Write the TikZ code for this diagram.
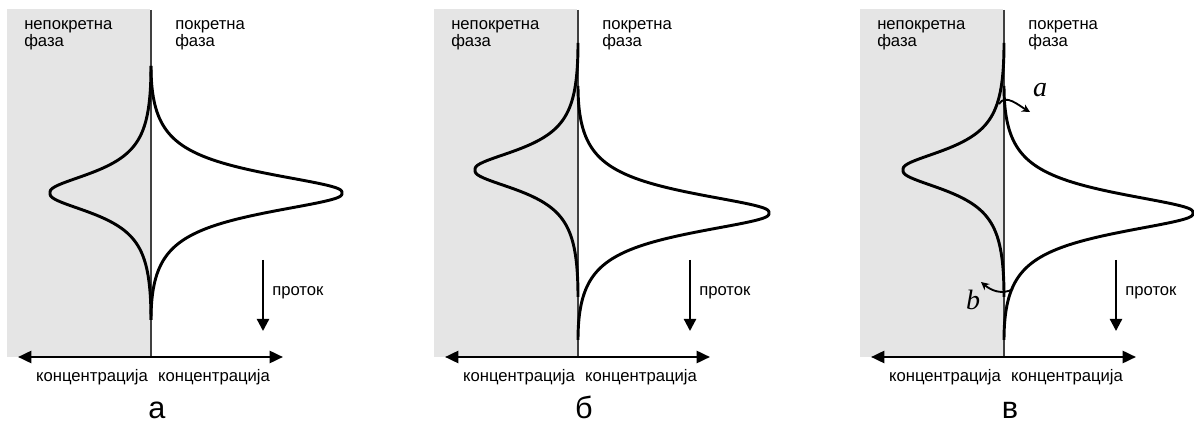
\documentclass[tikz,border=0pt]{standalone}
\usepackage{fontspec}
\setmainfont{Liberation Sans}
\newfontfamily\labelserif{Liberation Serif}
\usetikzlibrary{arrows.meta, positioning}
\tikzset{
  fixed_phase/.style={fill=black!10, draw=none},
  phase_line/.style={line width=0.8pt, black!75},
  peak_curve/.style={line width=2.2pt, black, line join=round},
  axis_arrow/.style={{Triangle[length=10pt,width=9pt]}-{Triangle[length=10pt,width=9pt]}, line width=1.9pt},
  flow_arrow/.style={-{Triangle[length=9pt,width=9pt]}, line width=1.7pt},
  swap_arrow/.style={-{Stealth[length=6pt,width=6pt]}, line width=1.4pt},
  label_text/.style={font=\fontsize{12.5}{12.75}\selectfont, inner sep=0pt, align=left},
  panel_label/.style={font=\fontsize{23}{23}\selectfont, inner sep=0pt},
  step_label/.style={font=\labelserif\itshape\fontsize{21}{21}\selectfont, inner sep=0pt}
}
% concentration profile: line x, peak y, signed height
\newcommand{\peakcurve}[3]{%
  \draw[peak_curve] plot[domain=-1:1, samples=161, smooth]
    ({#1+(#3)*(1-(\x)*(\x))*(1-(\x)*(\x))/(1+25*(\x)*(\x)*((\x)*(\x)/((\x)*(\x)+0.0008)))}, {#2+127*(\x)});
}

\begin{document}
\begin{tikzpicture}[x=0.75pt, y=-0.75pt]
  \useasboundingbox (0,0) rectangle (1194,423);

  % the three panels share the same frame
  \foreach \p/\dx/\letter in {1/0/а, 2/427/б, 3/853/в} {
    \begin{scope}[shift={(\dx,0)}]
      \fill[fixed_phase] (7,9) rectangle (150,357);
      \coordinate (top\p) at (151,10);
      \coordinate (base\p) at (151,357);
      \draw[phase_line] (top\p) -- (base\p);
      \coordinate (cleft\p) at (18,357);
      \coordinate (cright\p) at (283,357);
      \draw[axis_arrow] (cleft\p) -- (cright\p);
      \node[label_text, anchor=base west] (fixed\p) at (24,47) {непокретна\\фаза};
      \node[label_text, anchor=base west] (mobile\p) at (175,47) {покретна\\фаза};
      \node[label_text, anchor=base] (concl\p) at (92,382) {концентрација};
      \node[label_text, anchor=base] (concr\p) at (214,382) {концентрација};
      \coordinate (flowtop\p) at (263,260);
      \coordinate (flowend\p) at (263,331);
      \draw[flow_arrow] (flowtop\p) -- (flowend\p);
      \node[label_text, anchor=base west] (flow\p) at (272,296) {проток};
      \node[panel_label, anchor=base] (panel\p) at (157,418) {\letter};
    \end{scope}
  }

  % profiles in both phases
  \peakcurve{151}{193}{-101}
  \peakcurve{151}{193}{191}
  \peakcurve{578}{170}{-103}
  \peakcurve{578}{213}{191}
  \peakcurve{1004}{170}{-101}
  \peakcurve{1004}{213}{189}

  % exchange between the phases
  \coordinate (a_start) at (999,104);
  \coordinate (a_end) at (1030,112);
  \draw[swap_arrow] (a_start) to[out=60, in=150] (a_end);
  \node[step_label] (a_label) at (1040,90) {a};
  \coordinate (b_start) at (1013,289);
  \coordinate (b_end) at (981,282);
  \draw[swap_arrow] (b_start) to[out=210, in=-40] (b_end);
  \node[step_label] (b_label) at (973,300) {b};

\end{tikzpicture}
\end{document}
